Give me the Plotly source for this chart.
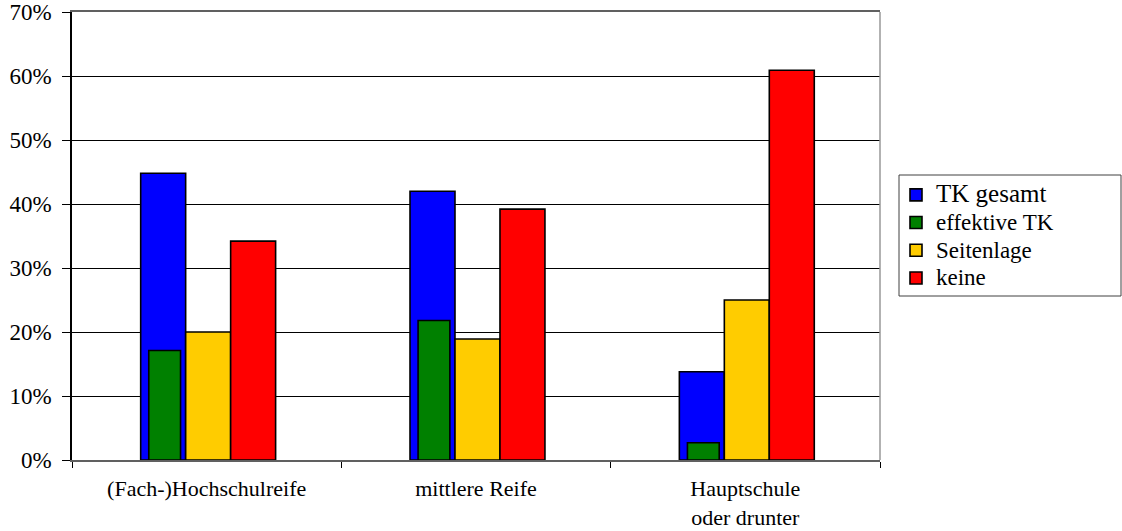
import plotly.graph_objects as go

# Schulabschluss-Gruppen und Anteile (%)
categories = ["(Fach-)Hochschulreife", "mittlere Reife", "Hauptschule<br>oder drunter"]
tk_gesamt = [44.8, 42.0, 13.8]
effektive_tk = [17.1, 21.8, 2.7]
seitenlage = [20.0, 18.9, 25.0]
keine = [34.2, 39.2, 60.9]

FONT = "Liberation Serif, Times New Roman, serif"
x_pos = list(range(len(categories)))
bar_w = 0.167

# plot area in pixels (for paper-coordinate conversions)
L, R, T, B = 72, 880, 12, 460
def px_x(px):
    return (px - L) / (R - L)
def px_y(py):
    return (B - py) / (B - T)

fig = go.Figure()

series = [
    ("<span style='font-size:25px'>TK gesamt</span>", tk_gesamt, "#0000FF", -0.245, bar_w),
    ("<span style='font-size:23px'>effektive TK</span>", effektive_tk, "#008000", -0.215, 0.118),
    ("<span style='font-size:23px'>Seitenlage</span>", seitenlage, "#FFCC00", -0.078, bar_w),
    ("<span style='font-size:23px'>keine</span>", keine, "#FF0000", 0.089, bar_w),
]
for name, vals, color, off, w in series:
    fig.add_trace(go.Bar(
        x=x_pos, y=vals, name=name,
        offset=off, width=w,
        marker=dict(color=color, line=dict(color="black", width=1.6)),
    ))

fig.update_layout(
    width=1122, height=531,
    margin=dict(l=L, r=1122 - R, t=T, b=531 - B),
    barmode="overlay",
    plot_bgcolor="white", paper_bgcolor="white",
    font=dict(family=FONT, size=23, color="black"),
    showlegend=True,
    legend=dict(
        x=px_x(896), y=px_y(176), xanchor="left", yanchor="top",
        bgcolor="rgba(0,0,0,0)", borderwidth=0,
        font=dict(family=FONT, size=19, color="black"),
    ),
    xaxis=dict(
        range=[-0.5, 2.5], automargin=False,
        tickmode="array", tickvals=x_pos, ticktext=categories,
        ticks="", showgrid=False, zeroline=False,
        showline=True, linecolor="#606060", linewidth=1.5, mirror=True,
        tickfont=dict(family=FONT, size=22, color="black"),
        ticklabelstandoff=8,
        minor=dict(tickvals=[-0.5, 0.5, 1.5, 2.5], ticks="outside",
                   ticklen=6, tickcolor="black", tickwidth=1, showgrid=False),
    ),
    yaxis=dict(
        range=[0, 70], automargin=False,
        tickmode="linear", tick0=0, dtick=10, ticksuffix="%",
        showgrid=True, gridcolor="black", gridwidth=1, zeroline=False,
        showline=True, linecolor="black", linewidth=1.5,
        ticks="outside", ticklen=8, tickcolor="black",
        tickfont=dict(family=FONT, size=23, color="black"),
        ticklabelstandoff=6,
    ),
    shapes=[
        dict(type="line", xref="paper", yref="paper", x0=1, x1=1, y0=0, y1=1,
             line=dict(color="#999999", width=1.5)),
        # legend frame
        dict(type="rect", xref="paper", yref="paper",
             x0=px_x(899), x1=px_x(1121), y0=px_y(296), y1=px_y(175),
             line=dict(color="#404040", width=1), fillcolor="white", layer="below"),
    ],
)

fig.write_html("out.html")
